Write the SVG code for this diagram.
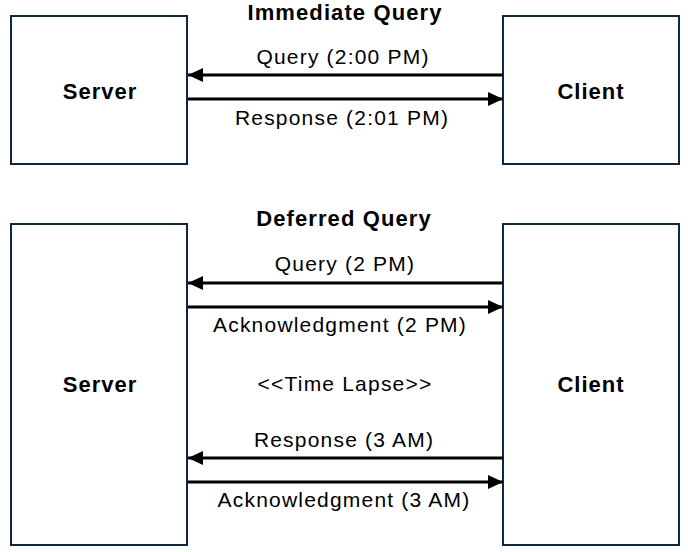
<svg xmlns="http://www.w3.org/2000/svg" width="688" height="552" viewBox="0 0 688 552">
<style>
.box{fill:#ffffff;stroke:#0e2841;stroke-width:2}
.ttl{font-family:"Liberation Sans",Arial,sans-serif;font-weight:bold;font-size:22px;fill:#000;text-anchor:middle;letter-spacing:1.1px}
.nd{font-family:"Liberation Sans",Arial,sans-serif;font-weight:bold;font-size:22px;fill:#000;text-anchor:middle;letter-spacing:1px}
.lbl{font-family:"Liberation Sans",Arial,sans-serif;font-size:21px;fill:#000;text-anchor:middle;letter-spacing:1.2px}
.conn{stroke:#000;stroke-width:3;fill:none}
</style>
<defs>
<marker id="ah" markerUnits="userSpaceOnUse" markerWidth="16" markerHeight="14" refX="15" refY="7" orient="auto">
<path d="M0,0 L15,7 L0,14 Z" fill="#000"/>
</marker>
</defs>
<rect width="688" height="552" fill="#ffffff"/>
<text class="ttl" x="345" y="20">Immediate Query</text>
<text class="ttl" x="344" y="226">Deferred Query</text>
<g id="server1"><rect class="box" x="11" y="16" width="176" height="148"/><text class="nd" x="100" y="99">Server</text></g>
<g id="client1"><rect class="box" x="503" y="16" width="176" height="148"/><text class="nd" x="591" y="99">Client</text></g>
<g id="server2"><rect class="box" x="11" y="224" width="176" height="321"/><text class="nd" x="100" y="392">Server</text></g>
<g id="client2"><rect class="box" x="503" y="224" width="176" height="321"/><text class="nd" x="591" y="392">Client</text></g>
<g id="connectors">
<line class="conn" x1="503" y1="75" x2="188" y2="75" marker-end="url(#ah)"/>
<line class="conn" x1="188" y1="99" x2="503" y2="99" marker-end="url(#ah)"/>
<line class="conn" x1="503" y1="283" x2="188" y2="283" marker-end="url(#ah)"/>
<line class="conn" x1="188" y1="307" x2="503" y2="307" marker-end="url(#ah)"/>
<line class="conn" x1="503" y1="458" x2="188" y2="458" marker-end="url(#ah)"/>
<line class="conn" x1="188" y1="482" x2="503" y2="482" marker-end="url(#ah)"/>
<text class="lbl" x="343" y="64">Query (2:00 PM)</text>
<text class="lbl" x="342" y="125">Response (2:01 PM)</text>
<text class="lbl" x="345" y="271">Query (2 PM)</text>
<text class="lbl" x="340" y="332">Acknowledgment (2 PM)</text>
<text class="lbl" x="345" y="391">&lt;&lt;Time Lapse&gt;&gt;</text>
<text class="lbl" x="344" y="447">Response (3 AM)</text>
<text class="lbl" x="344" y="507">Acknowledgment (3 AM)</text>
</g>
</svg>
